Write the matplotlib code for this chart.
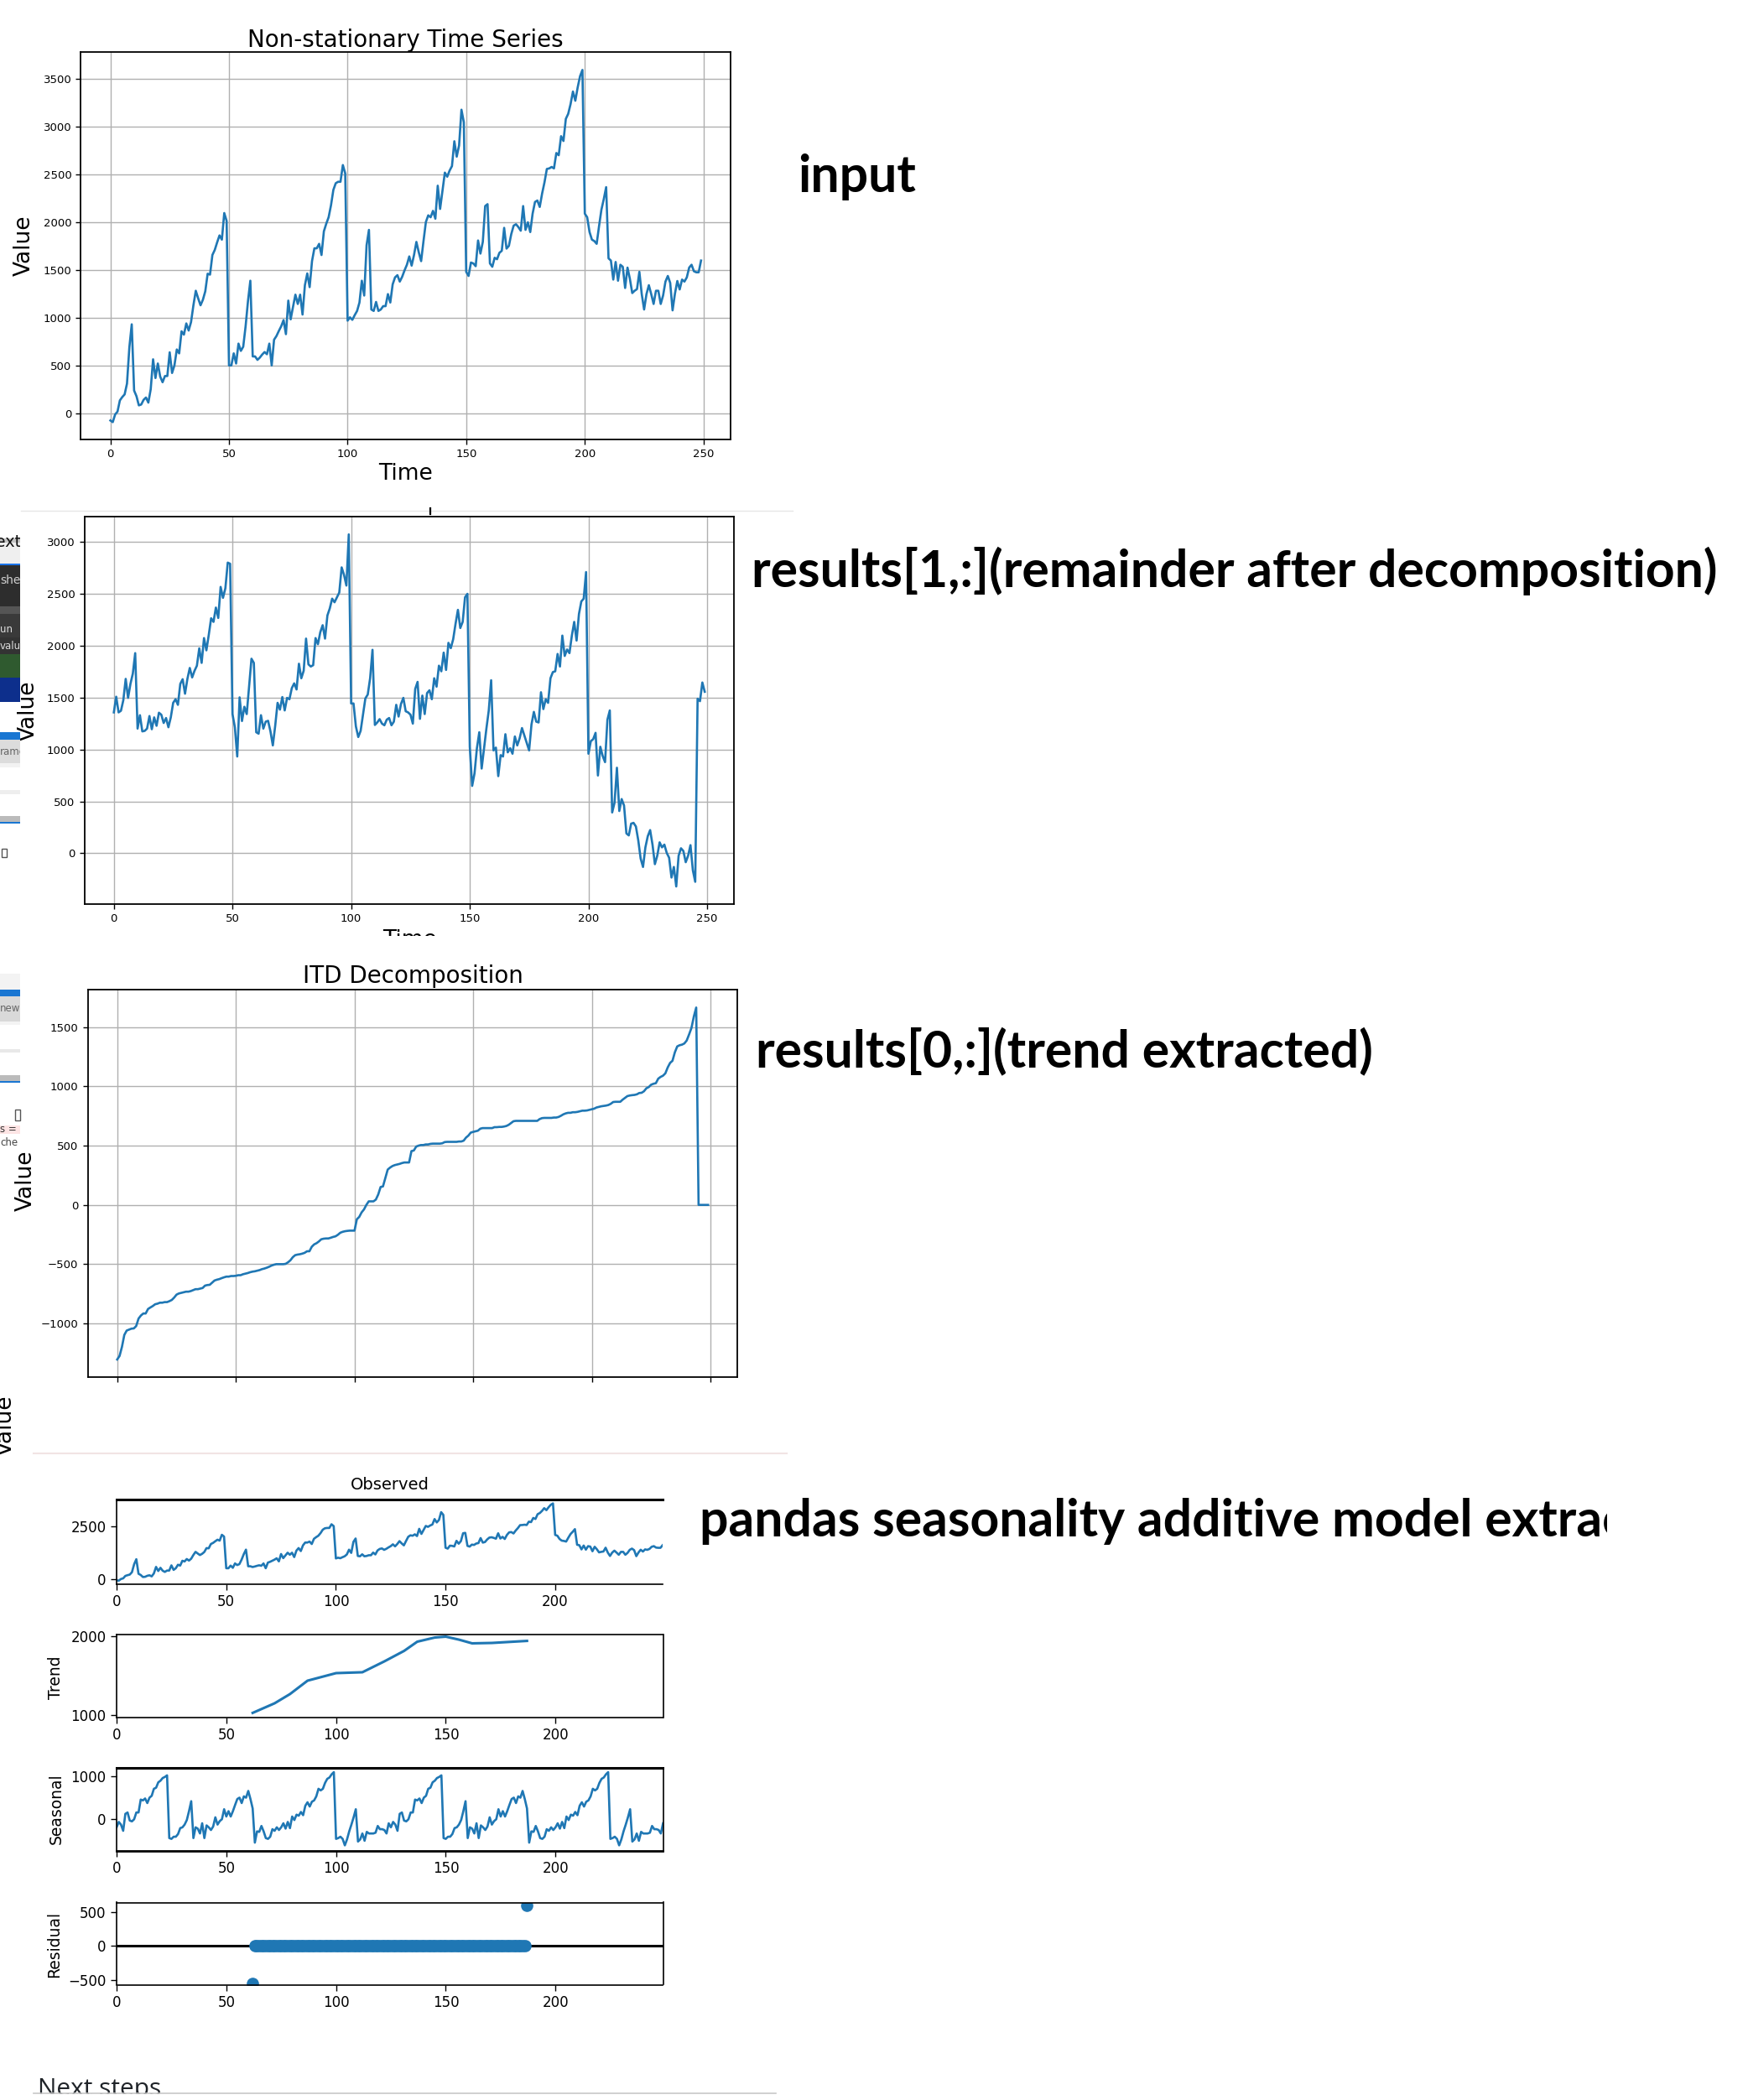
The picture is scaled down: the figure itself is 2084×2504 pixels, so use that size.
import matplotlib
matplotlib.use("Agg")
import matplotlib.pyplot as plt
from matplotlib.patches import Rectangle
from matplotlib.lines import Line2D
from matplotlib.transforms import Bbox, TransformedBbox

W, H = 2084, 2504
BLUE = "#1f77b4"

# ---- data ----
time_steps = list(range(250))

input_series = [
    -73, -90, -10, 20, 137, 172, 200, 313, 693, 933,
    240, 181, 85, 94, 143, 167, 114, 254, 567, 371,
    523, 386, 327, 392, 392, 640, 424, 503, 670, 629,
    860, 825, 942, 868, 956, 1132, 1284, 1205, 1132, 1190,
    1278, 1462, 1453, 1658, 1711, 1790, 1863, 1819, 2097, 2015,
    503, 503, 629, 523, 731, 655, 699, 912, 1175, 1389,
    597, 597, 561, 585, 617, 643, 620, 731, 503, 772,
    810, 863, 912, 977, 830, 1181, 985, 1117, 1243, 1146,
    1243, 1035, 1342, 1465, 1322, 1594, 1728, 1728, 1775, 1658,
    1906, 1985, 2053, 2178, 2339, 2409, 2424, 2424, 2599, 2512,
    971, 1006, 980, 1029, 1073, 1161, 1389, 1234, 1760, 1921,
    1088, 1073, 1167, 1073, 1088, 1123, 1123, 1249, 1161, 1351,
    1424, 1447, 1380, 1430, 1497, 1556, 1643, 1547, 1658, 1795,
    1687, 1594, 1804, 2003, 2073, 2053, 2120, 2038, 2383, 2140,
    2330, 2520, 2477, 2541, 2588, 2848, 2687, 2804, 3178, 3047,
    1482, 1439, 1579, 1570, 1541, 1810, 1673, 1795, 2170, 2190,
    1570, 1535, 1629, 1614, 1681, 1702, 1942, 1725, 1754, 1877,
    1965, 1980, 1950, 1912, 2170, 1921, 2000, 1898, 2091, 2213,
    2228, 2161, 2301, 2418, 2558, 2564, 2579, 2564, 2725, 2702,
    2901, 2851, 3082, 3135, 3237, 3368, 3272, 3412, 3529, 3594,
    2091, 2053, 1898, 1819, 1804, 1775, 1959, 2132, 2243, 2368,
    1623, 1600, 1401, 1585, 1389, 1556, 1535, 1313, 1526, 1409,
    1260, 1284, 1301, 1482, 1249, 1088, 1249, 1342, 1249, 1146,
    1284, 1284, 1146, 1234, 1380, 1439, 1366, 1079, 1254, 1386,
    1298, 1401, 1380, 1424, 1526, 1556, 1488, 1477, 1477, 1600,
]

remainder = [
    1357, 1508, 1357, 1373, 1475, 1680, 1497, 1632, 1731, 1928,
    1201, 1330, 1174, 1179, 1201, 1322, 1195, 1309, 1228, 1354,
    1335, 1255, 1303, 1214, 1309, 1449, 1484, 1430, 1632, 1677,
    1537, 1680, 1785, 1694, 1758, 1807, 1974, 1834, 2073, 1955,
    2103, 2264, 2229, 2367, 2267, 2566, 2461, 2553, 2800, 2789,
    1341, 1214, 932, 1502, 1274, 1411, 1341, 1610, 1874, 1834,
    1166, 1152, 1330, 1201, 1268, 1276, 1174, 1039, 1228, 1449,
    1384, 1505, 1376, 1497, 1484, 1591, 1637, 1578, 1826, 1686,
    1758, 2068, 1820, 1799, 1812, 2073, 2014, 2130, 2197, 2068,
    2291, 2359, 2453, 2418, 2466, 2512, 2754, 2682, 2579, 3072,
    1443, 1443, 1222, 1120, 1179, 1335, 1492, 1529, 1686, 1960,
    1236, 1260, 1292, 1249, 1233, 1287, 1303, 1233, 1268, 1430,
    1317, 1438, 1497, 1368, 1357, 1335, 1249, 1583, 1651, 1295,
    1519, 1341, 1543, 1570, 1484, 1686, 1605, 1807, 1753, 1933,
    1766, 2027, 1976, 2062, 2211, 2345, 2170, 2229, 2466, 2499,
    1026, 649, 770, 1012, 1166, 816, 1012, 1201, 1376, 1667,
    991, 1018, 743, 945, 932, 1147, 972, 1012, 959, 1125,
    1039, 1107, 1206, 1134, 1061, 991, 1241, 1362, 1268, 1260,
    1551, 1389, 1484, 1449, 1686, 1745, 1753, 1920, 1799, 2097,
    1901, 1963, 1928, 2095, 2229, 2049, 2305, 2426, 2453, 2709,
    959, 1080, 1099, 1160, 749, 1026, 937, 878, 1287, 1376,
    393, 487, 824, 407, 522, 460, 191, 172, 285, 293,
    258, 124, -51, -132, 57, 164, 223, 83, -105, -24,
    105, 57, 83, 3, -43, -234, -132, -320, -24, 48,
    22, -86, -24, 78, -164, -275, 1489, 1465, 1645, 1556,
]

itd_trend = [
    -1304, -1274, -1198, -1097, -1060, -1052, -1044, -1042, -1022, -959,
    -933, -916, -916, -878, -865, -853, -838, -833, -825, -825,
    -820, -820, -812, -802, -782, -757, -747, -742, -737, -732,
    -732, -727, -719, -711, -711, -706, -701, -681, -676, -674,
    -656, -638, -631, -626, -618, -611, -605, -605, -600, -600,
    -598, -593, -593, -585, -580, -575, -568, -563, -560, -555,
    -550, -542, -537, -530, -522, -512, -505, -500, -500, -500,
    -500, -497, -484, -467, -441, -424, -419, -416, -411, -404,
    -391, -391, -353, -333, -323, -308, -290, -285, -283, -283,
    -277, -270, -265, -252, -235, -227, -222, -219, -217, -217,
    -217, -121, -101, -63, -38, 0, 30, 30, 30, 45,
    88, 151, 156, 227, 298, 315, 328, 336, 341, 346,
    353, 358, 358, 358, 454, 459, 492, 500, 505, 505,
    510, 510, 515, 517, 517, 517, 517, 520, 530, 532,
    532, 532, 532, 532, 535, 535, 542, 568, 585, 610,
    616, 621, 626, 643, 648, 648, 648, 648, 648, 656,
    656, 658, 658, 661, 666, 676, 691, 706, 709, 709,
    709, 709, 709, 709, 709, 709, 709, 709, 724, 732,
    734, 734, 734, 734, 737, 737, 742, 752, 764, 772,
    777, 777, 782, 782, 785, 790, 795, 795, 797, 802,
    807, 812, 822, 827, 832, 835, 838, 843, 853, 868,
    870, 870, 870, 888, 903, 918, 923, 926, 928, 933,
    944, 946, 959, 984, 994, 1014, 1022, 1027, 1065, 1080,
    1090, 1110, 1160, 1198, 1216, 1287, 1337, 1347, 1352, 1362,
    1387, 1438, 1493, 1589, 1665, 0, 0, 0, 0, 0,
]

# pandas / statsmodels additive decomposition (period 125)
trend_x = [62, 72, 79, 87, 100, 112, 122, 131, 137, 145, 150, 156, 162, 171, 187]
trend_vals = [1027, 1149, 1266, 1436, 1532, 1543, 1681, 1814, 1931, 1984,
              1995, 1957, 1910, 1915, 1941]

seasonal_cycle = [
    -203, -76, -139, -285, 114, 146, -44, -63, -13, 146,
    146, 449, 430, 475, 367, 494, 538, 703, 728, 855,
    893, 956, 981, 1019, -456, -475, -424, -424, -361, -222,
    -203, -139, -32, 177, 411, -456, -203, -234, -348, -108,
    -456, -158, -203, -266, -184, 32, -139, -57, -13, 222,
    51, 177, 51, 177, 323, 462, 494, 367, 525, 494,
    652, 462, 241, -563, -298, -310, -171, -298, -456, -475,
    -424, -247, -285, -203, -266, -203, -108, -234, -76, -222,
    51, -32, 95, 70, 158, 82, 304, 386, 285, 399,
    430, 525, 703, 665, 703, 842, 937, 968, 1044, 1095,
    -475, -456, -424, -475, -627, -487, -298, -139, 32, 222,
    -538, -487, -348, -519, -310, -348, -348, -348, -329, -171,
    -247, -247, -266, -348, -108,
]
seasonal = seasonal_cycle + seasonal_cycle  # the picture shows the same cycle twice

resid_x = list(range(62, 188))
resid_vals = [-545.0] + [0.0] * 124 + [596.0]

x_ticks_full = [0, 50, 100, 150, 200, 250]
x_ticks_decomp = [0, 50, 100, 150, 200]

# ---- figure ----
fig = plt.figure(figsize=(W / 100, H / 100), dpi=100)
fig.patch.set_facecolor("white")


def px_axes(left, top, right, bottom):
    return fig.add_axes([left / W, 1 - bottom / H, (right - left) / W, (bottom - top) / H])


def px_text(x, y, s, **kw):
    return fig.text(x / W, 1 - y / H, s, **kw)


def px_rect(x0, y0, x1, y1, color, z=5, **kw):
    fig.add_artist(Rectangle((x0 / W, 1 - y1 / H), (x1 - x0) / W, (y1 - y0) / H,
                             transform=fig.transFigure, facecolor=color,
                             edgecolor=kw.pop("edgecolor", "none"), zorder=z, **kw))


def px_hline(x0, x1, y, color, lw=1.0, z=6):
    fig.add_artist(Line2D([x0 / W, x1 / W], [1 - y / H, 1 - y / H],
                          transform=fig.transFigure, color=color, lw=lw, zorder=z))


def style_main(ax):
    ax.grid(True, color="#b0b0b0", lw=1.0)
    ax.tick_params(labelsize=9.5, length=4.5, width=1.0)
    for sp in ax.spines.values():
        sp.set_linewidth(1.3)


# panel 1: input
ax1 = px_axes(96.4, 62.4, 871, 524.3)
ax1.plot(time_steps, input_series, color=BLUE, lw=1.9)
ax1.set_xticks(x_ticks_full)
ax1.set_yticks(range(0, 3501, 500))
style_main(ax1)
px_text(483.7, 55.5, "Non-stationary Time Series", fontsize=20, ha="center", va="baseline")
px_text(29, 293, "Value", fontsize=19, rotation=90, ha="center", va="center")
px_text(483.7, 564.5, "Time", fontsize=19, ha="center", va="center")

# panel 2: remainder
ax2 = px_axes(100.5, 616.2, 875.4, 1078)
ax2.plot(time_steps, remainder, color=BLUE, lw=1.9)
ax2.set_xticks(x_ticks_full)
ax2.set_yticks(range(0, 3001, 500))
style_main(ax2)
px_text(34, 848, "Value", fontsize=19, rotation=90, ha="center", va="center")
px_text(488, 1108, "Time", fontsize=19, ha="center", va="top")
px_rect(25, 1116, 960, 1148, "white", z=5)
px_hline(25, 945, 609, "#e6e6e6", lw=1.0)
fig.add_artist(Line2D([512.6 / W, 512.6 / W], [1 - 606 / H, 1 - 613 / H],
                      transform=fig.transFigure, color="black", lw=1.6, zorder=6))

# panel 3: ITD trend
ax3 = px_axes(104.5, 1180.4, 879.4, 1642)
ax3.plot(time_steps, itd_trend, color=BLUE, lw=1.9)
ax3.set_xticks(x_ticks_full)
ax3.set_xticklabels([])
ax3.set_yticks(range(-1000, 1501, 500))
style_main(ax3)
px_text(492, 1172, "ITD Decomposition", fontsize=20, ha="center", va="baseline")
px_text(31, 1408, "Value", fontsize=19, rotation=90, ha="center", va="center")
px_text(7, 1700, "Value", fontsize=19, rotation=90, ha="center", va="center")

# panel 4: seasonal_decompose plot
px_hline(40, 938, 1733, "#f1e4e4", lw=1.5)


def style_decomp(ax):
    ax.set_xlim(0, 249)
    ax.set_xticks(x_ticks_decomp)
    ax.tick_params(labelsize=12, length=5, width=1.0, pad=4)
    for sp in ax.spines.values():
        sp.set_linewidth(1.2)


obs = px_axes(139, 1787.5, 790, 1888.5)
obs.plot(time_steps, input_series, color=BLUE, lw=1.9)
obs.set_ylim(-240, 3800)
obs.set_yticks([0, 2500])
style_decomp(obs)
obs.spines["right"].set_visible(False)
obs.spines["top"].set_linewidth(2.2)
px_text(464.5, 1776, "Observed", fontsize=14, ha="center", va="baseline")

tr = px_axes(139, 1948.5, 790.5, 2047.5)
tr.plot(trend_x, trend_vals, color=BLUE, lw=2.2)
tr.set_ylim(973, 2027)
tr.set_yticks([1000, 2000])
style_decomp(tr)
px_text(67, 2000, "Trend", fontsize=13.5, rotation=90, ha="center", va="center")

se = px_axes(139, 2108, 790.5, 2206.5)
se.plot(time_steps, seasonal, color=BLUE, lw=1.9)
se.set_ylim(-748, 1194)
se.set_yticks([0, 1000])
style_decomp(se)
se.spines["top"].set_linewidth(2.2)
se.spines["bottom"].set_linewidth(2.0)
px_text(67, 2157, "Seasonal", fontsize=13.5, rotation=90, ha="center", va="center")

rs = px_axes(139, 2268.5, 790.5, 2366.5)
rs.axhline(0, color="black", lw=2.2, zorder=1)
rs.plot(resid_x, resid_vals, "o", color=BLUE, ms=9.5, zorder=2)
rs.set_ylim(-568, 642)
rs.set_yticks([-500, 0, 500])
style_decomp(rs)
px_text(65, 2318, "Residual", fontsize=13.5, rotation=90, ha="center", va="center")

# right-hand annotations
note = dict(fontsize=43.7, fontweight="bold", family="Lato", ha="left", va="baseline")
px_text(951, 229, "input", **note)
px_text(896, 700, "results[1,:](remainder after decomposition)", **note)
px_text(901, 1272, "results[0,:](trend extracted)", **note)
px_text(834, 1832, "pandas seasonality additive model extraction", **note)
px_rect(1916, 1750, W, 1880, "white", z=5)

# bottom heading, cut by the page edge
px_text(45, 2499, "Next steps", fontsize=21.5, family="Open Sans", color="#1f2328",
        ha="left", va="baseline")
px_rect(0, 2497, W, H, "white", z=5)
px_hline(40, 925, 2496, "#c8c8c8", lw=1.2)

# slice of another window on the left edge
strip = [
    (642, 647, "#c4c4c4"), (647, 672, "#efefef"), (672, 674, "#1a73e8"),
    (674, 723, "#2d2d2d"), (723, 732, "#555555"), (732, 760, "#3a3a3a"),
    (760, 780, "#333333"), (780, 808, "#2f5a2f"), (808, 837, "#0d2f8c"),
    (873, 882, "#1976d2"), (882, 910, "#dcdcdc"), (910, 915, "#f2f2f2"),
    (942, 947, "#eeeeee"), (973, 980, "#bbbbbb"), (980, 982, "#1976d2"),
    (1161, 1180, "#f3f3f3"), (1180, 1188, "#1976d2"), (1188, 1218, "#d9d9d9"),
    (1218, 1222, "#f3f3f3"), (1251, 1255, "#e8e8e8"), (1282, 1289, "#bbbbbb"),
    (1289, 1291, "#1976d2"), (1342, 1352, "#fde4e4"),
]
for y0, y1, c in strip:
    px_rect(0, y0, 24, y1, c, z=4)
px_rect(18, 1323, 24, 1336, "none", z=4, edgecolor="#555555", lw=1.0)
px_rect(2, 1012, 8, 1022, "none", z=4, edgecolor="#555555", lw=1.0)

clip = TransformedBbox(Bbox([[0, 0], [24 / W, 1]]), fig.transFigure)
strip_text = [
    (25, 646, "Next", 14, "#111111", "right"),
    (0, 692, "she", 10, "#cfcfcf", "left"),
    (0, 750, "un", 8.5, "#dddddd", "left"),
    (0, 770, "valua", 8.5, "#dddddd", "left"),
    (0, 897, "rame", 8.5, "#666666", "left"),
    (0, 1203, "newc", 8.5, "#666666", "left"),
    (0, 1347, "s =", 8.5, "#333333", "left"),
    (0, 1362, "che", 8.5, "#444444", "left"),
]
for x, y, s, size, c, ha in strip_text:
    t = px_text(x, y, s, fontsize=size, color=c, ha=ha, va="center", zorder=6)
    t.set_clip_box(clip)
    t.set_clip_on(True)

fig.savefig("out.png", dpi=100)
